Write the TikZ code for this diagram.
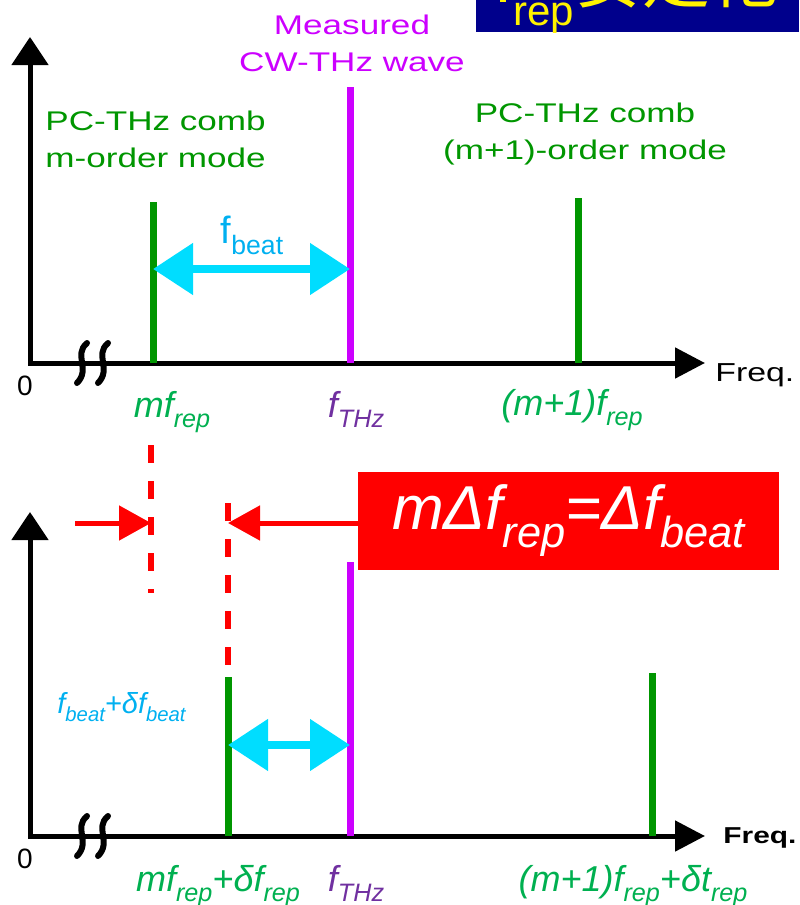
\documentclass[tikz,border=0pt]{standalone}
\usepackage{fontspec}
\setmainfont{Liberation Sans}
\newfontfamily\widefont[FakeStretch=1.3]{Liberation Sans}
\newfontfamily\jpfont{Noto Sans CJK JP}
\usetikzlibrary{arrows.meta, positioning}

\definecolor{combgreen}{RGB}{0,150,0}
\definecolor{labgreen}{RGB}{0,176,80}
\definecolor{thzpink}{RGB}{204,0,255}
\definecolor{thzpurple}{RGB}{112,48,160}
\definecolor{beatcyan}{RGB}{0,221,255}
\definecolor{beattext}{RGB}{0,176,240}
\definecolor{titleblue}{RGB}{0,0,140}

\newcommand{\lo}[1]{\raisebox{-0.55ex}{\scalebox{0.7}{#1}}}

\begin{document}
\begin{tikzpicture}[x=0.5pt, y=-0.5pt, line join=round]
   % Styles
   \tikzset{
    axis/.style={line width=2.5pt, line join=miter, {Triangle[length=14pt, width=18pt]}-{Triangle[length=15pt, width=15pt]}},
    brk/.style={line width=3pt, line cap=round},
    comb/.style={line width=3.5pt, combgreen},
    cw/.style={line width=3.5pt, thzpink},
    beat/.style={line width=4pt, beatcyan, {Triangle[length=20pt, width=25pt]}-{Triangle[length=20pt, width=25pt]}},
    shiftarr/.style={line width=2.5pt, red, -{Triangle[length=16pt, width=17pt]}},
    guide/.style={line width=3pt, red, dash pattern=on 9pt off 9pt},
    note/.style={inner sep=0pt, align=center, font=\widefont\fontsize{13.5}{18.5}\selectfont},
    lab/.style={inner sep=0pt, anchor=base, font=\fontsize{18}{20}\selectfont\itshape},
    zero/.style={inner sep=0pt, anchor=base, font=\fontsize{14}{16}\selectfont}
   }
  \useasboundingbox (0,0) rectangle (799,905);

  % Title strip (cut off at the top)
  \begin{scope}
   \clip (476,0) rectangle (799,32);
   \fill[titleblue] (476,0) rectangle (799,32);
   \node[inner sep=0pt, anchor=base west, yellow, font=\fontsize{34}{40}\selectfont] (title) at (494,2) {f\raisebox{-11.5pt}{\fontsize{21}{25}\selectfont rep}{\jpfont 安定化}};
  \end{scope}

  % Upper spectrum
  \coordinate (o1) at (30,363);
  \coordinate (y1) at (30,37);
  \coordinate (x1) at (705,363);
  \coordinate (m1t) at (153,202);
  \coordinate (m1b) at (153,363);
  \coordinate (c1t) at (350,87);
  \coordinate (c1b) at (350,363);
  \coordinate (n1t) at (578,198);
  \coordinate (n1b) at (578,363);
  \coordinate (b1l) at (153,269);
  \coordinate (b1r) at (350,269);
  \draw[axis] (y1) -- (o1) -- (x1);
  \draw[comb] (m1b) -- (m1t);
  \draw[cw] (c1b) -- (c1t);
  \draw[comb] (n1b) -- (n1t);
  \draw[beat] (b1l) -- (b1r);
  \node[note, thzpink] (cwtxt) at (352,43) {Measured\\CW-THz wave};
  \node[note, combgreen, align=left, anchor=west] (m1txt) at (45,139) {PC-THz comb\\m-order mode};
  \node[note, combgreen] (n1txt) at (585,134) {PC-THz comb\\(m+1)-order mode};
  \node[inner sep=0pt, anchor=base, beattext, font=\fontsize{19}{22}\selectfont] (b1txt) at (252,243) {f\lo{beat}};
  \node[zero] (zero1) at (25,395) {0};
  \node[inner sep=0pt, anchor=base west, font=\widefont\fontsize{13}{15}\selectfont] (freq1) at (715,381) {Freq.};
  \node[lab, labgreen] (m1lab) at (172,417) {mf\lo{rep}};
  \node[lab, thzpurple] (c1lab) at (356,417) {f\lo{THz}};
  \node[lab, labgreen] (n1lab) at (572,415) {(m+1)f\lo{rep}};

  % Axis breaks
  \foreach \by in {363,836}{
    \foreach \bx in {82,103}{
      \draw[brk] (\bx+5,\by-20) .. controls (\bx-9,\by-8) and (\bx+9,\by+6) .. (\bx-5,\by+20);
    }
  }

  % Shift of the comb mode
  \coordinate (g1t) at (151,445);
  \coordinate (g1b) at (151,593);
  \coordinate (g2t) at (228,503);
  \coordinate (g2b) at (228,677);
  \coordinate (lstart) at (75,523);
  \node[fill=red, text=white, inner sep=0pt, minimum width=210.5pt, minimum height=49pt, font=\fontsize{31}{36}\selectfont\itshape] (eqbox) at (568.5,521) {mΔf\lo{rep}=Δf\lo{beat}};
  \draw[guide] (g1t) -- (g1b);
  \draw[guide] (g2t) -- (g2b);
  \draw[shiftarr] (lstart) -- (lstart -| g1t);
  \draw[shiftarr] (eqbox.west |- lstart) -- (lstart -| g2t);

  % Lower spectrum
  \coordinate (o2) at (30,836);
  \coordinate (y2) at (30,512);
  \coordinate (x2) at (705,836);
  \coordinate (m2b) at (228,836);
  \coordinate (c2t) at (350,562);
  \coordinate (c2b) at (350,836);
  \coordinate (n2t) at (652,673);
  \coordinate (n2b) at (652,836);
  \coordinate (b2l) at (228,745);
  \coordinate (b2r) at (350,745);
  \draw[axis] (y2) -- (o2) -- (x2);
  \draw[comb] (m2b) -- (g2b);
  \draw[cw] (c2b) -- (c2t);
  \draw[comb] (n2b) -- (n2t);
  \draw[beat] (b2l) -- (b2r);
  \node[inner sep=0pt, anchor=base west, beattext, font=\fontsize{14.5}{17}\selectfont\itshape] (b2txt) at (57,713) {f\lo{beat}+δf\lo{beat}};
  \node[zero] (zero2) at (25,868) {0};
  \node[inner sep=0pt, anchor=base west, font=\widefont\bfseries\fontsize{11.5}{14}\selectfont] (freq2) at (723,843) {Freq.};
  \node[lab, labgreen] (m2lab) at (218,891) {mf\lo{rep}+δf\lo{rep}};
  \node[lab, thzpurple] (c2lab) at (356,891) {f\lo{THz}};
  \node[lab, labgreen] (n2lab) at (633,891) {(m+1)f\lo{rep}+δt\lo{rep}};
\end{tikzpicture}
\end{document}
